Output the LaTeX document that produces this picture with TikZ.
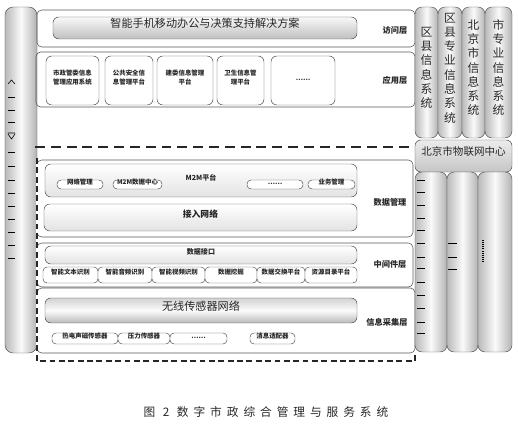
\documentclass[tikz,border=0pt]{standalone}
\usepackage{fontspec}
\setmainfont{Noto Sans CJK SC}
\newfontfamily\capfont[LetterSpace=42]{Noto Sans CJK SC}
\usetikzlibrary{fit, positioning}

\begin{document}
\begin{tikzpicture}[x=0.03cm, y=-0.03cm, line join=round, text=black!85,
  layer box/.style={draw=gray!70!black, line width=0.5pt, rounded corners=4pt, inner sep=0pt},
  layer label/.style={font=\bfseries\fontsize{7}{8}\selectfont},
  pillar/.style={draw=gray!60!black, line width=0.4pt, rounded corners=6pt, left color=gray!55, right color=gray!60, middle color=gray!4, inner sep=0pt},
  column/.style={pillar, align=center, font=\fontsize{10}{12.2}\selectfont},
  banner/.style={draw=gray!60!black, rounded corners=5pt, inner sep=0pt, top color=gray!5, bottom color=gray!50, font=\fontsize{9.5}{10}\selectfont},
  plain box/.style={draw=gray!60!black, rounded corners=5pt, inner sep=0pt, top color=white, bottom color=gray!22, font=\bfseries\fontsize{6}{7}\selectfont},
  app box/.style={draw=gray!60!black, rounded corners=5pt, inner sep=0pt, fill=white, align=center, font=\bfseries\fontsize{5.5}{7.5}\selectfont},
  pill/.style={draw=gray!60!black, rounded corners=3.5pt, fill=white, inner sep=0pt, font=\bfseries\fontsize{5.5}{6}\selectfont},
  tick/.style={black, line width=0.8pt}]
\useasboundingbox (0,0) rectangle (518,430);

\node[pillar, rounded corners=7pt, fit={(5,7) (37,353)}] (left bar) {};
\draw[tick, line width=0.5pt] (8,84) -- (11.5,80) -- (15,84);
\foreach \y in {97,110,122}
    \draw[tick] (8,\y) -- (15,\y);
\draw[tick, line width=0.5pt] (8,133) -- (15,133) (8,134) -- (11.5,139) -- (15,134);
\foreach \y in {152,166,180,193,206,219,232,245,258}
    \draw[tick] (8,\y) -- (15,\y);

\node[layer box, fit={(37,10) (415,47)}] (access) {};
\node[banner, fit={(53,17) (357,39)}] (mobile) {智能手机移动办公与决策支持解决方案};
\node[layer label] (access label) at (395,30) {访问层};

\node[layer box, fit={(36,52) (415,107)}] (app) {};
\foreach \n/\a/\b/\t in {gov/46/99/{市政管委信息\\管理应用系统}, safety/105/153/{公共安全信\\息管理平台}, build/157/213/{建委信息管理\\平台}, health/217/264/{卫生信息管\\理平台}, more/271/335/{……}}
    \node[app box, fit={(\a,56) (\b,105)}] (\n) {\t};
\node[layer label] (app label) at (395,80) {应用层};

\coordinate (cut west) at (35,147);
\coordinate (cut east) at (415,147);
\draw[gray!30!black, line width=1.8pt, dash pattern=on 8.5pt off 5pt] (cut west) -- (cut east);

\node[layer box, fit={(37,160) (413,237)}] (data) {};
\node[plain box, fit={(45,164) (357,197)}] (m2m) {M2M平台};
\foreach \n/\a/\b/\t in {netmgr/57/103/网络管理, m2mdata/113/162/M2M数据中心, m2mmore/247/303/……, bizmgr/308/355/业务管理}
    \node[pill, fit={(\a,180) (\b,189)}] (\n) {\t};
\node[plain box, fit={(44,204) (357,231)}, font=\bfseries\fontsize{7.5}{8}\selectfont] (access net) {接入网络};
\node[layer label] (data label) at (390,202) {数据管理};

\node[layer box, fit={(37,243) (413,287)}] (middle) {};
\node[plain box, fit={(45,246) (357,264)}] (interface) {数据接口};
\foreach \n/\a/\b/\t in {textrec/43/98/智能文本识别, audiorec/98/152/智能音频识别, videorec/152/205/智能视频识别, mining/205/257/数据挖掘, exchange/257/305/数据交换平台, catalog/305/357/资源目录平台}
    \node[pill, fit={(\a,267) (\b,283)}] (\n) {\t};
\node[layer label] (middle label) at (390,264) {中间件层};

\node[layer box, fit={(37,288) (415,353)}] (collect) {};
\node[banner, top color=gray!35, bottom color=gray!55, middle color=gray!3, fit={(45,298) (357,323)}] (wireless) {无线传感器网络};
\foreach \n/\a/\b/\t in {thermal/52/118/热电声磁传感器, pressure/118/170/压力传感器, sensmore/170/227/……, adapter/250/295/消息适配器}
    \node[pill, fit={(\a,333) (\b,344)}] (\n) {\t};
\node[layer label] (collect label) at (387,322) {信息采集层};

\coordinate (lower nw) at (37,158);
\coordinate (lower sw) at (37,361);
\coordinate (lower se) at (415,361);
\coordinate (lower ne) at (415,354);
\draw[white, line width=2pt] (lower nw) -- (lower sw);
\draw[gray!30!black, line width=1.2pt, dash pattern=on 5pt off 3pt] (lower nw) -- (lower sw) -- (lower se) -- (lower ne);

\foreach \n/\a/\b/\t in {district/415/438/{区\\县\\信\\息\\系\\统}, districtpro/438/462/{区\\县\\专\\业\\信\\息\\系\\统}, city/462/485/{北\\京\\市\\信\\息\\系\\统}, citypro/485/512/{市\\专\\业\\信\\息\\系\\统}}
    \node[column, fit={(\a,7) (\b,138)}] (\n) {\t};
\node[draw=gray!60!black, rounded corners=5pt, inner sep=0pt, top color=gray!15, bottom color=gray!45, font=\fontsize{9}{10}\selectfont, fit={(415,140) (512,172)}] (iot) {北京市物联网中心};
\foreach \n/\a/\b in {low a/415/447, low b/447/478, low c/478/512}
    \node[pillar, fit={(\a,172) (\b,352)}] (\n) {};
\foreach \y in {180,192,205,218,230,243,257,268,282,295,308,322,333}
    \draw[tick] (417,\y) -- (425,\y);
\foreach \y in {243,257,269}
    \draw[tick] (448,\y) -- (457,\y);
\draw[black, line width=1.2pt, dash pattern=on 0.8pt off 1pt] (483,240) -- (483,263);

\node[font=\capfont\fontsize{10}{12}\selectfont] (caption) at (266,412) {图 2 数字市政综合管理与服务系统};
\end{tikzpicture}
\end{document}
